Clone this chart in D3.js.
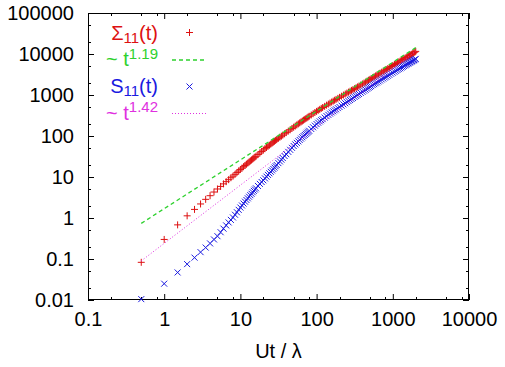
<!DOCTYPE html>
<html><head><meta charset="utf-8">
<script src="https://cdn.jsdelivr.net/npm/d3@7"></script>
<style>
body{margin:0;background:#fff}
svg{display:block}
text{font-family:"Liberation Sans",Arial,sans-serif}
</style>
</head><body>
<svg id="chart" width="505" height="367"></svg>
<script>
// ---- data ----
const times = [
  0.5,1,1.5,2,2.5,3,3.5,4,4.5,5,
  5.5,6,6.5,7,7.5,8,8.5,9,9.5,10,
  10.5,11,11.5,12,12.5,13,13.5,14,14.5,15,
  15.5,16,17,18,19,20,21,22,23,24,
  25,26,27,28,29,30,31.5,33,34.5,36,
  38,40,42.5,45,47.5,50,52.5,55,57.5,60,
  62.5,65,67.5,70,72.5,75,77.5,80,85,90,
  95,100,105,110,115,120,127.5,135,142.5,150,
  157.5,165,172.5,180,190,200,212.5,225,237.5,250,
  262.5,275,287.5,300,315,330,345,360,380,400,
  420,440,460,480,500,520,545,570,595,620,
  650,680,715,750,785,820,860,900,950,1000,
  1050,1100,1150,1200,1250,1300,1350,1400,1450,1500,
  1550,1600,1650,1700,1750,1800,1850,1900,1950,2000];
const sigma11 = [
  0.083,0.30,0.68,1.13,1.62,2.2,2.85,3.5,4.3,5.1,
  5.9,6.8,7.7,8.6,9.6,10.5,11.6,12.8,14.0,15.3,
  16.5,17.8,19.1,20.5,21.8,23.2,24.6,26,27.5,29,
  30.5,32,35.2,38.5,42,45.5,49,52.5,56,59.5,
  63.2,67,70.7,74.5,78.2,82,87.7,93.5,99,105,
  113,121,131.5,142,153,164,175,186,197.5,209,
  220.5,232,243.5,255,267,279,291,303,326,350,
  374,398,422,446,470,494,529,565,600,636,
  672,708,744,780,828,876,935,995,1055,1115,
  1175,1235,1295,1355,1427,1500,1575,1650,1755,1860,
  1965,2070,2180,2290,2400,2510,2645,2780,2920,3060,
  3230,3400,3600,3800,4000,4200,4420,4650,4950,5250,
  5550,5850,6150,6450,6750,7050,7350,7650,7950,8250,
  8550,8850,9150,9450,9770,10100,10450,10800,11200,11600];
const s11 = [
  0.0105,0.025,0.047,0.075,0.108,0.147,0.19,0.24,0.30,0.36,
  0.45,0.55,0.66,0.78,0.9,1.03,1.2,1.38,1.58,1.8,
  2.02,2.25,2.5,2.75,3.02,3.3,3.6,3.9,4.25,4.6,
  4.95,5.3,6.05,6.8,7.55,8.3,9.25,10.2,11.25,12.3,
  13.4,14.5,15.75,17,18.3,19.6,21.8,24,26.5,29,
  32.5,36,41,46,51.5,57,62.5,68,74,80,
  86.5,93,99.5,106,113,120,127,134,148.5,163,
  179,195,211,227,242.5,258,281.5,305,328.5,352,
  376,400,424,448,479,510,550,590,630,670,
  712,755,800,845,897,950,1005,1060,1130,1200,
  1275,1350,1425,1500,1575,1650,1745,1840,1935,2030,
  2145,2260,2395,2530,2665,2800,2955,3110,3305,3500,
  3695,3890,4090,4290,4490,4690,4890,5090,5290,5490,
  5690,5890,6095,6300,6500,6700,6900,7100,7350,7600];
const fit119T = [0.5, 2000];
const fit119V = [0.74, 14300];
const fit142T = [0.5, 2000];
const fit142V = [0.09, 11700];
const xTicks = [0.1,1,10,100,1000,10000];
const xTickLabels = ["0.1","1","10","100","1000","10000"];
const yTicks = [0.01,0.1,1,10,100,1000,10000,100000];
const yTickLabels = ["0.01","0.1","1","10","100","1000","10000","100000"];
const xMinorMult = [2,5,8];
const yMinorMult = [2,5];
const xLabel = "Ut / λ";

// ---- layout ----
const L = 88, R = 469, T = 13, B = 300;
const cRed = "#dd1111", cGreen = "#2ed12e", cBlue = "#1a1ae0", cMag = "#e030e0";
const svg = d3.select("#chart");
const x = d3.scaleLog().domain([0.1, 10000]).range([L, R]);
const y = d3.scaleLog().domain([0.01, 100000]).range([B, T]);

// axes
const gx = svg.append("g").attr("transform", `translate(0,${B})`)
  .call(d3.axisBottom(x).tickValues(xTicks).tickFormat((d,i)=>xTickLabels[i])
    .tickSizeInner(-6).tickSizeOuter(0).tickPadding(12));
const gy = svg.append("g").attr("transform", `translate(${L},0)`)
  .call(d3.axisLeft(y).tickValues(yTicks).tickFormat((d,i)=>yTickLabels[i])
    .tickSizeInner(-6).tickSizeOuter(0).tickPadding(14));
const gt = svg.append("g").attr("transform", `translate(0,${T})`)
  .call(d3.axisTop(x).tickValues(xTicks).tickFormat("").tickSizeInner(-6).tickSizeOuter(0));
const gr = svg.append("g").attr("transform", `translate(${R},0)`)
  .call(d3.axisRight(y).tickValues(yTicks).tickFormat("").tickSizeInner(-6).tickSizeOuter(0));
[gx,gy,gt,gr].forEach(g=>{
  g.select(".domain").remove();
  g.attr("font-family", null).attr("font-size", null);
  g.selectAll("text").attr("font-size", 20).attr("fill", "#000");
  g.selectAll("line").attr("stroke", "#000");
});

// minor ticks
const minorG = svg.append("g").attr("stroke", "#000").attr("stroke-width", 1);
xTicks.slice(0,-1).forEach(d => xMinorMult.forEach(m => {
  const px = Math.round(x(d*m)) + 0.5;
  minorG.append("line").attr("x1",px).attr("x2",px).attr("y1",B).attr("y2",B-3);
  minorG.append("line").attr("x1",px).attr("x2",px).attr("y1",T).attr("y2",T+3);
}));
yTicks.slice(0,-1).forEach(d => yMinorMult.forEach(m => {
  const py = Math.round(y(d*m)) + 0.5;
  minorG.append("line").attr("y1",py).attr("y2",py).attr("x1",L).attr("x2",L+3);
  minorG.append("line").attr("y1",py).attr("y2",py).attr("x1",R).attr("x2",R-3);
}));

// frame
svg.append("rect").attr("x",L+0.5).attr("y",T+0.5).attr("width",R-L-1).attr("height",B-T-1)
  .attr("fill","none").attr("stroke","#000").attr("stroke-width",1);

// x label
svg.append("text").attr("x",(L+R)/2).attr("y",358).attr("text-anchor","middle")
  .attr("font-size",20).text(xLabel);

const plusPath = "M-3.5,0H3.5M0,-3.5V3.5";
const crossPath = "M-3,-3L3,3M-3,3L3,-3";
const line = d3.line().x(d=>x(d[0])).y(d=>y(d[1]));

// series 1: Sigma11 (red plus)
svg.append("g").selectAll("path").data(times.map((t,i)=>[t,sigma11[i]])).join("path")
  .attr("d", plusPath).attr("transform", d=>`translate(${x(d[0])},${y(d[1])})`)
  .attr("stroke", cRed).attr("stroke-width",1).attr("fill","none");
// fit t^1.19 (green dashed)
svg.append("path").datum(fit119T.map((t,i)=>[t,fit119V[i]])).attr("d", line)
  .attr("stroke", cGreen).attr("stroke-width",1.3).attr("stroke-dasharray","4,3").attr("fill","none");
// series 2: S11 (blue cross)
svg.append("g").selectAll("path").data(times.map((t,i)=>[t,s11[i]])).join("path")
  .attr("d", crossPath).attr("transform", d=>`translate(${x(d[0])},${y(d[1])})`)
  .attr("stroke", cBlue).attr("stroke-width",1).attr("fill","none");
// fit t^1.42 (magenta dotted)
svg.append("path").datum(fit142T.map((t,i)=>[t,fit142V[i]])).attr("d", line)
  .attr("stroke", cMag).attr("stroke-width",1).attr("stroke-dasharray","1,2").attr("fill","none");

// legend
const lg = svg.append("g");
function entry(yb, col, main, scriptTxt, isSub, tail) {
  const t = lg.append("text").attr("x",158).attr("y",yb).attr("text-anchor","end")
    .attr("font-size",20).attr("fill",col);
  t.append("tspan").text(main);
  if (isSub) {
    t.append("tspan").attr("font-size",15).attr("dy",3.5).text(scriptTxt);
    t.append("tspan").attr("dy",-3.5).text(tail);
  } else {
    t.append("tspan").attr("font-size",15).attr("dy",-7.5).text(scriptTxt);
  }
}
entry(39.5, cRed, "Σ", "11", true, "(t)");
entry(66, cGreen, "~ t", "1.19", false, "");
entry(92.5, cBlue, "S", "11", true, "(t)");
entry(119.5, cMag, "~ t", "1.42", false, "");
lg.append("path").attr("d",plusPath).attr("transform","translate(189.5,32.5)")
  .attr("stroke",cRed).attr("fill","none");
lg.append("line").attr("x1",172).attr("x2",207).attr("y1",60).attr("y2",60)
  .attr("stroke",cGreen).attr("stroke-width",1.3).attr("stroke-dasharray","4,3");
lg.append("path").attr("d",crossPath).attr("transform","translate(189.5,86.5)")
  .attr("stroke",cBlue).attr("fill","none");
lg.append("line").attr("x1",172).attr("x2",207).attr("y1",113.5).attr("y2",113.5)
  .attr("stroke",cMag).attr("stroke-width",1).attr("stroke-dasharray","1,2");
</script>
</body></html>
